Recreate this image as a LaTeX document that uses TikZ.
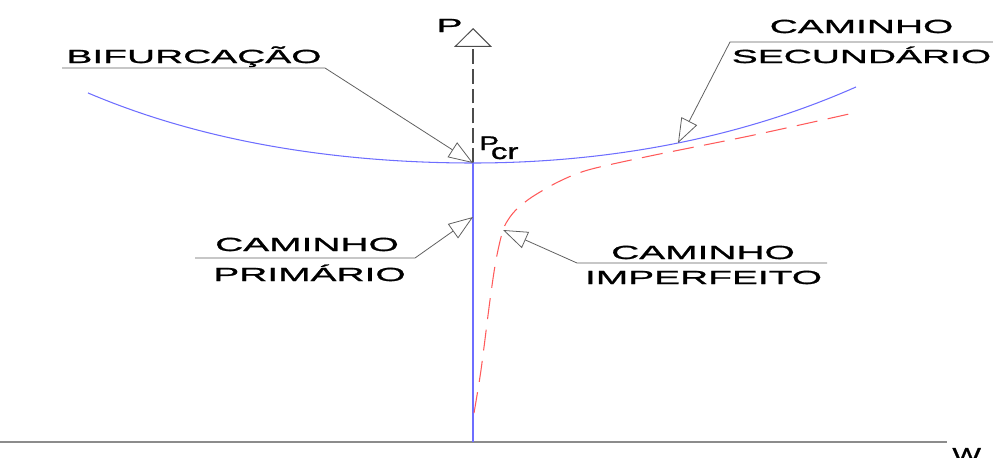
\documentclass[tikz,border=0pt]{standalone}
\usepackage{fontspec}
\setmainfont{Liberation Sans}
\newfontfamily\cadfont[FakeStretch=2.05, FakeBold=1.3]{Liberation Sans}
\newfontfamily\cadnarrow[FakeStretch=1.5, FakeBold=1.3]{Liberation Sans}
\usetikzlibrary{arrows.meta}
\definecolor{pathblue}{RGB}{110,110,255}
\definecolor{pathred}{RGB}{255,90,90}
\definecolor{leadgray}{RGB}{95,95,95}
\definecolor{axisgray}{RGB}{140,140,140}

\begin{document}
\begin{tikzpicture}[
    x=0.02cm, y=-0.02cm,
    lbl/.style={inner sep=0pt, anchor=base, font=\cadfont\fontsize{10.8}{12}\selectfont},
    leader/.style={draw=leadgray, line width=0.45pt, -{Triangle[open, length=14pt, width=10pt]}},
    primary/.style={draw=pathblue, line width=0.8pt},
    secondary/.style={draw=pathblue, line width=0.6pt},
    imperfect/.style={draw=pathred, line width=0.6pt, dash pattern=on 12pt off 6pt},
    paxis/.style={draw=black!70, line width=0.6pt, dash pattern=on 8.5pt off 2.8pt,
                  -{Triangle[open, length=10.8pt, width=21.5pt]}}
  ]
    \useasboundingbox (0,0) rectangle (993,457);

    % Axes
    \coordinate (wstart) at (0,442);
    \coordinate (wend) at (947,442);
    \coordinate (origin) at (473,442);
    \coordinate (pcrpt) at (473,163);
    \coordinate (ptop) at (473,28);
    \draw[axisgray, line width=0.8pt] (wstart) -- (wend);
    \draw[paxis] (pcrpt) -- (ptop);
    \node[lbl] (plabel) at (449.5,32) {P};
    \node[inner sep=0pt, anchor=base west, font=\cadnarrow] (pcr) at (479,150)
      {{\fontsize{11.2}{12}\selectfont P}\kern-4.6pt\raisebox{-5.1pt}{\fontsize{12.5}{14}\selectfont cr}};
    \node[inner sep=0pt, anchor=base west, font=\cadnarrow\fontsize{11.5}{12}\selectfont] (wlabel) at (952,462) {W};

    % Paths
    \draw[primary] (pcrpt) -- (origin);
    \draw[secondary] plot[domain=88:473, samples=60]
      (\x, {163 - 3.94*((473-\x)/100)^2 - 0.053*((473-\x)/100)^4});
    \draw[secondary] plot[domain=473:856, samples=60]
      (\x, {163 - 4.59*((\x-473)/100)^2 - 0.0404*((\x-473)/100)^4});
    \draw[imperfect] plot[smooth] coordinates {(474,413) (481,370) (490,300) (496,260) (503,230)
      (510,217) (518,208) (532,197) (558,182) (588,170) (650,156) (754,135) (858,112)};

    % Labels
    \node[lbl] (bif) at (194,63) {BIFURCAÇÃO};
    \node[lbl] (sec1) at (861.5,33) {CAMINHO};
    \node[lbl] (sec2) at (861.5,63) {SECUNDÁRIO};
    \node[lbl] (pri1) at (307,251) {CAMINHO};
    \node[lbl] (pri2) at (309.5,281) {PRIMÁRIO};
    \node[lbl] (imp1) at (703,259) {CAMINHO};
    \node[lbl] (imp2) at (703.5,284) {IMPERFEITO};

    % Leaders
    \coordinate (bifl) at (62,68);
    \coordinate (bifr) at (325,68);
    \coordinate (secl) at (730,42);
    \coordinate (secr) at (993,42);
    \coordinate (secpt) at (678,143);
    \coordinate (pril) at (195,258);
    \coordinate (prir) at (415,258);
    \coordinate (pript) at (473,217);
    \coordinate (impl) at (577,263);
    \coordinate (impr) at (827,263);
    \coordinate (imppt) at (503,230);
    \draw[leader] (bifl) -- (bifr) -- (pcrpt);
    \draw[leader] (secr) -- (secl) -- (secpt);
    \draw[leader] (pril) -- (prir) -- (pript);
    \draw[leader] (impr) -- (impl) -- (imppt);
\end{tikzpicture}
\end{document}
